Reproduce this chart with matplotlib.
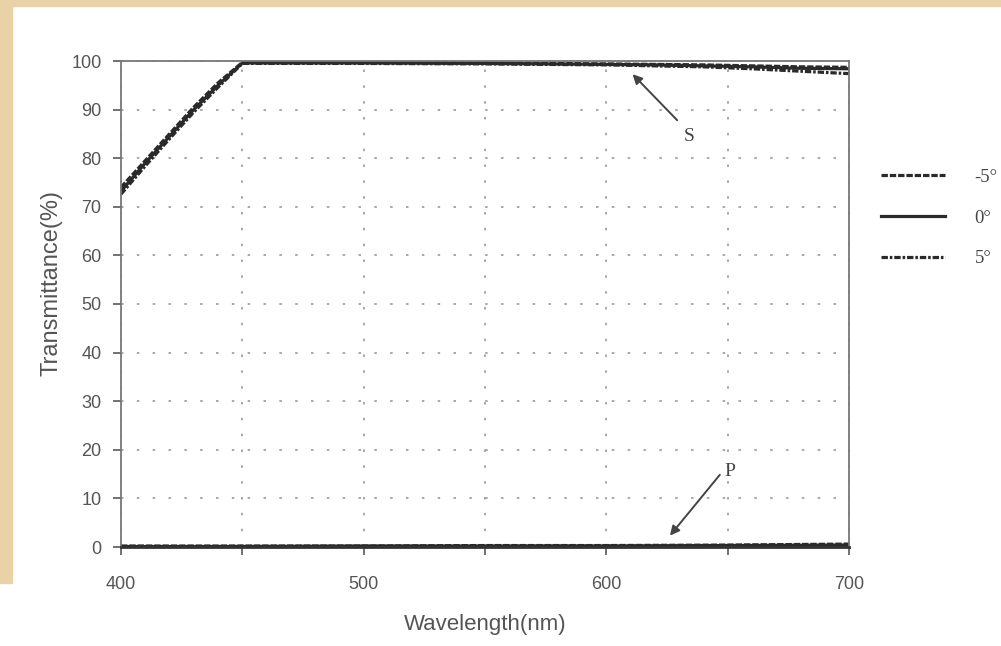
import matplotlib.pyplot as plt
from matplotlib.patches import Rectangle

# S-polarised transmittance for three incidence angles
wl = [400, 410, 420, 430, 440, 450, 500, 550, 600, 620, 640, 660, 680, 700]
s_m5 = [74.0, 79.5, 85.0, 90.5, 95.5, 99.7, 99.7, 99.6, 99.4, 99.3, 99.2, 99.0, 98.8, 98.7]
s_0 = [73.2, 79.0, 84.5, 90.0, 95.0, 99.6, 99.6, 99.5, 99.3, 99.2, 99.0, 98.8, 98.5, 98.4]
s_p5 = [72.6, 78.4, 84.0, 89.5, 94.6, 99.5, 99.5, 99.4, 99.2, 99.0, 98.8, 98.4, 97.9, 97.4]

# P-polarised transmittance
p_wl = [400, 450, 500, 550, 600, 650, 700]
p_m5 = [0.2, 0.2, 0.2, 0.3, 0.3, 0.4, 0.6]
p_0 = [0.1, 0.1, 0.2, 0.2, 0.2, 0.3, 0.4]
p_p5 = [0.0, 0.1, 0.1, 0.1, 0.2, 0.2, 0.3]

labels = ['-5°', '0°', '5°']
styles = [(0, (2, 0.6)), '-', (0, (2, 0.6, 0.8, 0.6))]

plt.rcParams['font.family'] = ['Liberation Sans', 'DejaVu Sans']

fig = plt.figure(figsize=(10.01, 6.46), dpi=100)
fig.patch.set_facecolor('white')
# paper edge along the top and left
fig.patches.append(Rectangle((0, 1 - 6 / 646), 1, 6 / 646, transform=fig.transFigure,
                             color='#e9d3a6', zorder=0))
fig.patches.append(Rectangle((0, 1 - 583 / 646), 12 / 1001, 583 / 646, transform=fig.transFigure,
                             color='#e9d3a6', zorder=0))

ax = fig.add_axes([121 / 1001, 99 / 646, 728 / 1001, 486 / 646])

handles = []
for s, p, ls, lab in zip([s_m5, s_0, s_p5], [p_m5, p_0, p_p5], styles, labels):
    h, = ax.plot(wl, s, color='#2a2a2a', lw=2.3, linestyle=ls, label=lab)
    ax.plot(p_wl, p, color='#2a2a2a', lw=2.3, linestyle=ls)
    handles.append(h)

ax.set_xlim(400, 700)
ax.set_ylim(0, 100)
ax.set_xticks([400, 450, 500, 550, 600, 650, 700])
ax.set_xticklabels(['400', '', '500', '', '600', '', '700'])
ax.set_yticks(range(0, 101, 10))
ax.tick_params(direction='out', length=6, width=1.3, colors='#666666',
               labelcolor='#555555', labelsize=13, pad=8)
ax.tick_params(axis='x', pad=15)

ax.grid(True, color='#999999', linestyle=(0, (1.5, 8)), linewidth=1.2)
for side in ['left', 'right', 'top']:
    ax.spines[side].set_color('#777777')
    ax.spines[side].set_linewidth(1.3)
ax.spines['bottom'].set_color('#333333')
ax.spines['bottom'].set_linewidth(2)

ax.set_xlabel('Wavelength(nm)', fontsize=16, color='#555555', labelpad=15)
ax.set_ylabel('Transmittance(%)', fontsize=17, color='#555555')
ax.yaxis.set_label_coords(-0.081, 0.543)

arrow = dict(arrowstyle='-|>', color='#444444', lw=1.4, mutation_scale=14)
ax.annotate('', xy=(610, 97.7), xytext=(630, 87.4), arrowprops=arrow)
ax.text(632, 84.5, 'S', fontsize=14, family='Liberation Serif', color='#444444', va='center')
ax.annotate('', xy=(625.5, 1.9), xytext=(647.5, 15.3), arrowprops=arrow)
ax.text(648.5, 15.5, 'P', fontsize=14, family='Liberation Serif', color='#444444', va='center')

fig.legend(handles=handles, loc='upper left', bbox_to_anchor=(864 / 1001, 1 - 152 / 646),
           frameon=False, handlelength=3.4, labelspacing=1.25, handletextpad=1.6,
           prop={'family': 'Liberation Serif', 'size': 13.5}, labelcolor='#444444')

fig.savefig('out.png', dpi=100)
